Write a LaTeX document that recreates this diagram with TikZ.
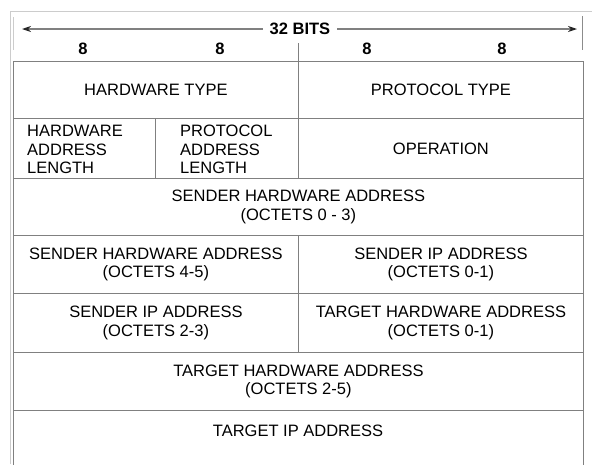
\documentclass[tikz,border=0pt]{standalone}
\usepackage{fontspec}
\setmainfont{Liberation Sans}
\usetikzlibrary{arrows.meta}

\begin{document}
\begin{tikzpicture}[x=1pt,y=-1pt]
    \tikzstyle{every node}=[font={\fontsize{16.5}{18.5}\selectfont}]
    \tikzstyle{cell}=[draw=black!50, line width=0.8pt, anchor=north west, inner sep=0pt, align=center]
    \tikzstyle{bits}=[font={\bfseries\fontsize{16.5}{18.5}\selectfont}, inner sep=7pt]
    \tikzstyle{frame}=[draw=black!20, line width=0.8pt]
    \tikzstyle{arrow}=[draw=black!50, line width=1.2pt, -{Stealth[length=9pt,width=6pt,color=black!85]}]
    \useasboundingbox (0,0) rectangle (592,464);
    \clip (0,0) rectangle (592,464);

    % frame and header
    \draw[frame] (10,464) -- (10,11) -- (592,11);
    \draw[frame] (13.5,17) -- (13.5,50);
    \draw[draw=black!45, line width=0.8pt] (582,16) -- (582,50);
    \node[bits] (width) at (300,29) {32 BITS};
    \coordinate (lefttip) at (22,29);
    \coordinate (righttip) at (577,29);
    \draw[arrow] (width) -- (lefttip);
    \draw[arrow] (width) -- (righttip);
    \foreach \x/\n in {83/bytea, 220/byteb, 367/bytec, 502/byted}
        \node[bits] (\n) at (\x,49) {8};

    % rows
    \node[cell, minimum width=285pt, minimum height=57pt] (hwtype) at (13,61) {HARDWARE TYPE};
    \node[cell, minimum width=285pt, minimum height=57pt] (prtype) at (298,61) {PROTOCOL TYPE};
    \draw[draw=black!50, line width=0.8pt] (298,43) -- (prtype.north west);

    \node[cell, minimum width=142pt, minimum height=60pt] (hwlen) at (13,118) {};
    \node[cell, minimum width=143pt, minimum height=60pt] (prlen) at (155,118) {};
    \node[cell, minimum width=285pt, minimum height=60pt] (oper) at (298,118) {OPERATION};
    \node[anchor=north west, inner sep=0pt, align=left] (hwlentext) at (27,125) {HARDWARE\\ADDRESS\\LENGTH};
    \node[anchor=north west, inner sep=0pt, align=left] (prlentext) at (180,125) {PROTOCOL\\ADDRESS\\LENGTH};

    \node[cell, minimum width=570pt, minimum height=57pt] (shwa) at (13,178) {SENDER HARDWARE ADDRESS\\(OCTETS 0 - 3)};

    \node[cell, minimum width=285pt, minimum height=58pt] (shwb) at (13,235) {SENDER HARDWARE ADDRESS\\(OCTETS 4-5)};
    \node[cell, minimum width=285pt, minimum height=58pt] (sipa) at (298,235) {SENDER IP ADDRESS\\(OCTETS 0-1)};

    \node[cell, minimum width=285pt, minimum height=59pt] (sipb) at (13,293) {SENDER IP ADDRESS\\(OCTETS 2-3)};
    \node[cell, minimum width=285pt, minimum height=59pt] (thwa) at (298,293) {TARGET HARDWARE ADDRESS\\(OCTETS 0-1)};

    \node[cell, minimum width=570pt, minimum height=58pt] (thwb) at (13,352) {TARGET HARDWARE ADDRESS\\(OCTETS 2-5)};

    \node[cell, minimum width=570pt, minimum height=70pt] (tipbox) at (13,410) {};
    \node (tip) at (298,431) {TARGET IP ADDRESS};
\end{tikzpicture}
\end{document}
